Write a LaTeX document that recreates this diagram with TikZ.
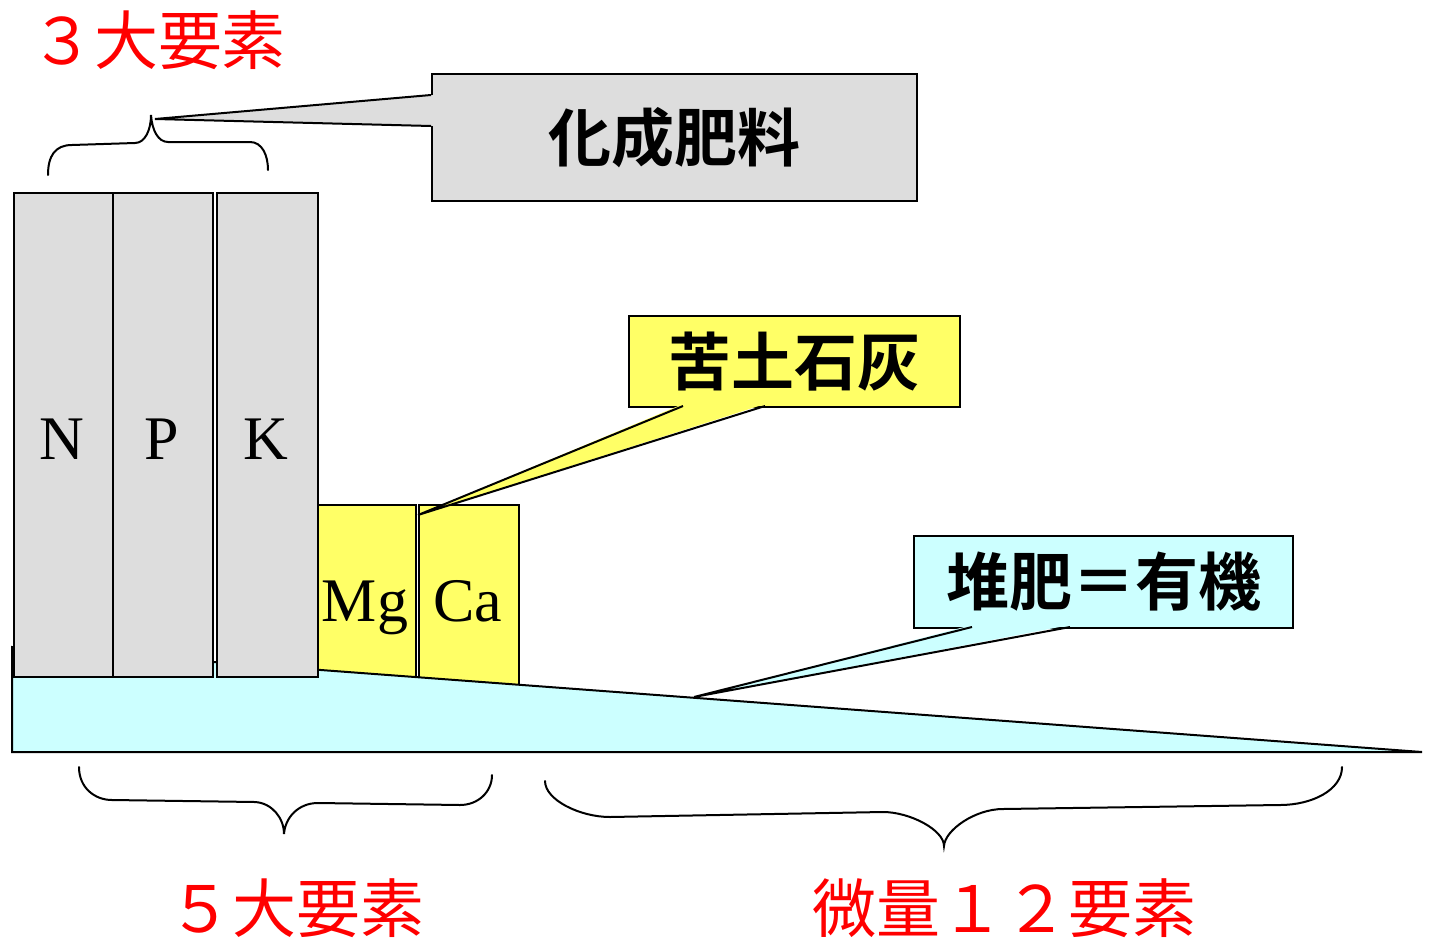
\documentclass[tikz,border=0pt]{standalone}
\usepackage{fontspec}
\setmainfont{Liberation Serif}
\newfontfamily\cjk{Noto Sans CJK JP}[BoldFont={Noto Sans CJK JP Bold}]
\definecolor{graybox}{HTML}{DDDDDD}
\definecolor{yellowbox}{HTML}{FFFF66}
\definecolor{cyanbox}{HTML}{CCFFFF}
\definecolor{redtext}{HTML}{FF0000}
\begin{document}
\begin{tikzpicture}[x=0.5pt,y=-0.5pt,line join=miter,
  bx/.style={draw=black,line width=1pt,inner sep=0pt,anchor=north west},
  elem/.style={font=\fontsize{31pt}{31pt}\selectfont,inner sep=0pt,anchor=base},
  callout/.style={draw=black,line width=1pt,inner sep=0pt,anchor=north west,
     font=\cjk\bfseries\fontsize{31.5pt}{31.5pt}\selectfont},
  ptr/.style={line width=1pt,draw=black},
  brace/.style={line width=1pt,draw=black,line cap=round},
  redlbl/.style={text=redtext,font=\cjk\fontsize{32pt}{32pt}\selectfont,inner sep=0pt}]
\useasboundingbox (0,0) rectangle (1429,937);

% yellow boxes (bottoms hidden by the cyan wedge)
\node[bx,fill=yellowbox,minimum width=49pt,minimum height=93pt] (mgbox) at (317,504) {};
\node[bx,fill=yellowbox,minimum width=50pt,minimum height=93pt] (cabox) at (418,504) {};

% cyan wedge
\coordinate (wedgeA) at (12,647);
\coordinate (wedgeB) at (1422,752);
\coordinate (wedgeC) at (12,752);
\draw[fill=cyanbox,line width=1pt] (wedgeA) -- (wedgeB) -- (wedgeC) -- cycle;

% gray boxes
\node[bx,fill=graybox,minimum width=49.5pt,minimum height=242pt] (nbox) at (13,192) {};
\node[bx,fill=graybox,minimum width=50pt,minimum height=242pt] (pbox) at (112,192) {};
\node[bx,fill=graybox,minimum width=50.5pt,minimum height=242pt] (kbox) at (216,192) {};

% element letters
\node[elem] (nlbl) at (62,459) {N};
\node[elem] (plbl) at (162,459) {P};
\node[elem] (klbl) at (266,459) {K};
\node[elem] (mglbl) at (365,621) {Mg};
\node[elem] (calbl) at (468,621) {Ca};

% callout: 化成肥料
\node[callout,fill=graybox,minimum width=242.5pt,minimum height=63.5pt] (kasei) at (431,73) {化成肥料};
\coordinate (kaseiA) at (431,95);
\coordinate (kaseiB) at (431,126);
\coordinate (kaseitip) at (155,119);
\fill[graybox] (433,95) -- (kaseitip) -- (433,126) -- cycle;
\draw[ptr] (kaseiA) -- (kaseitip) -- (kaseiB);

% callout: 苦土石灰
\node[callout,fill=yellowbox,minimum width=165.5pt,minimum height=45.5pt] (kudo) at (628,315) {苦土石灰};
\coordinate (kudoA) at (683,406);
\coordinate (kudoB) at (765,406);
\coordinate (kudotip) at (418,515);
\fill[yellowbox] (683,404) -- (kudotip) -- (765,404) -- cycle;
\draw[ptr] (kudoA) -- (kudotip) -- (kudoB);

% callout: 堆肥＝有機
\node[callout,fill=cyanbox,minimum width=189.5pt,minimum height=46pt] (taihi) at (913,535) {堆肥＝有機};
\coordinate (taihiA) at (972,627);
\coordinate (taihiB) at (1070,627);
\coordinate (taihitip) at (694,697);
\fill[cyanbox] (972,625) -- (taihitip) -- (1070,625) -- cycle;
\draw[ptr] (taihiA) -- (taihitip) -- (taihiB);

% braces
\draw[brace] (48,175) .. controls (48,156) and (55,145) .. (72,145) -- (135,143)
  .. controls (145,143) and (151,130) .. (151,115)
  .. controls (152,130) and (158,142) .. (168,142) -- (250,142)
  .. controls (262,142) and (268,155) .. (268,170);
\draw[brace] (79,767) .. controls (79,788) and (95,800) .. (112,800) -- (255,802)
  .. controls (272,803) and (284,818) .. (284,834)
  .. controls (285,818) and (298,803) .. (318,803) -- (460,805)
  .. controls (478,805) and (492,792) .. (492,775);
\draw[brace] (545,781) .. controls (545,800) and (580,817) .. (610,817) -- (883,812)
  .. controls (910,812) and (944,830) .. (944,846)
  .. controls (945,830) and (975,809) .. (1003,809) -- (1280,805)
  .. controls (1312,805) and (1342,790) .. (1342,767);

% red labels
\node[redlbl] (three) at (158,40) {３大要素};
\node[redlbl] (five) at (296,908) {５大要素};
\node[redlbl] (twelve) at (1004,908) {微量１２要素};
\end{tikzpicture}
\end{document}
